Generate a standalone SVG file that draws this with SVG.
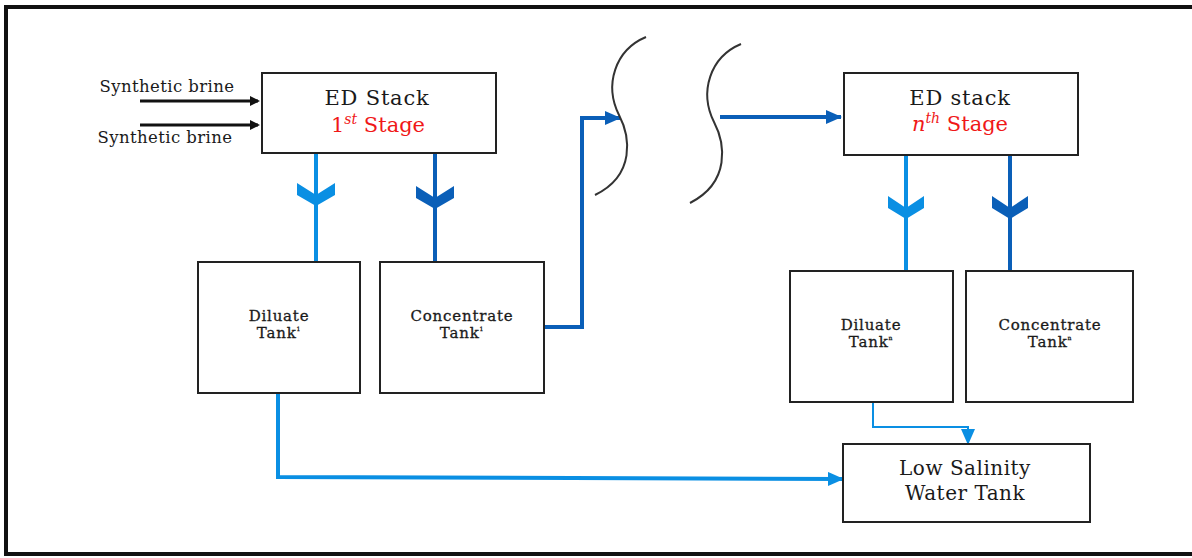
<svg xmlns="http://www.w3.org/2000/svg" width="1192" height="558" viewBox="0 0 1192 558">
<defs>
<style>
.box{fill:#fff;stroke:#222;stroke-width:2}
.t{font-family:"DejaVu Serif","Liberation Serif",serif;fill:#1a1a1a;text-anchor:middle}
.tk{font-size:15px;letter-spacing:0.8px;stroke:#1a1a1a;stroke-width:0.3}
.red{fill:#f01818}
.lb{stroke:#0a8fe3;stroke-width:4;fill:none}
.db{stroke:#0a5fb8;stroke-width:4;fill:none}
.thin{stroke:#0a8fe3;stroke-width:2;fill:none}
.blk{stroke:#111;stroke-width:3;fill:none}
.wave{stroke:#333;stroke-width:2;fill:none}
</style>
<marker id="ab" markerWidth="10" markerHeight="10" refX="8" refY="5" orient="auto" markerUnits="userSpaceOnUse" viewBox="0 0 10 10"><path d="M0,0 L10,5 L0,10 z" fill="#111"/></marker>
<marker id="al" markerWidth="16" markerHeight="14" refX="15" refY="7" orient="auto" markerUnits="userSpaceOnUse" viewBox="0 0 16 14"><path d="M0,0 L16,7 L0,14 z" fill="#0a8fe3"/></marker>
<marker id="ad" markerWidth="16" markerHeight="14" refX="15" refY="7" orient="auto" markerUnits="userSpaceOnUse" viewBox="0 0 16 14"><path d="M0,0 L16,7 L0,14 z" fill="#0a5fb8"/></marker>
</defs>
<rect x="6" y="7" width="1200" height="547" fill="#fff" stroke="#111" stroke-width="4"/>

<g id="connectors">
<line x1="140" y1="101" x2="258" y2="101" class="blk" marker-end="url(#ab)"/>
<line x1="140" y1="125" x2="258" y2="125" class="blk" marker-end="url(#ab)"/>
<line x1="316" y1="153" x2="316" y2="262" class="lb"/>
<path d="M297,183 L316,195 L335,183 L335,195 L316,206 L297,195 z" fill="#0a8fe3"/>
<line x1="435" y1="153" x2="435" y2="262" class="db"/>
<path d="M416,186 L435,198 L454,186 L454,198 L435,209 L416,198 z" fill="#0a5fb8"/>
<polyline points="544,327 582,327 582,118 620,118" class="db" stroke-width="3" marker-end="url(#ad)"/>
<line x1="720" y1="117" x2="841" y2="117" class="db" stroke-width="3" marker-end="url(#ad)"/>
<line x1="906" y1="155" x2="906" y2="270" class="lb"/>
<path d="M888,196 L906,208 L924,196 L924,208 L906,219 L888,208 z" fill="#0a8fe3"/>
<line x1="1010" y1="155" x2="1010" y2="270" class="db"/>
<path d="M992,196 L1010,208 L1028,196 L1028,208 L1010,219 L992,208 z" fill="#0a5fb8"/>
<polyline points="873,402 873,427 968,427 968,444" class="thin" marker-end="url(#al)"/>
<polyline points="278,393 278,477 843,479" class="lb" stroke-width="3" marker-end="url(#al)"/>
<path d="M646,37 C615,50 604,85 619,115 C630,136 636,175 595,195" class="wave"/>
<path d="M741,44 C710,57 699,92 714,122 C725,143 731,182 690,203" class="wave"/>
</g>

<g id="inputs">
<text x="167" y="92" class="t" font-size="16.5" letter-spacing="0.4">Synthetic brine</text>
<text x="165" y="143" class="t" font-size="16.5" letter-spacing="0.4">Synthetic brine</text>
</g>

<g id="ed1">
<rect x="262" y="73" width="234" height="80" class="box"/>
<text x="377" y="105" class="t" font-size="21" letter-spacing="0.8">ED Stack</text>
<text x="378" y="132" class="t red" font-size="21">1<tspan font-size="14" font-style="italic" dy="-8">st</tspan><tspan dy="8"> Stage</tspan></text>
</g>

<g id="diluate1">
<rect x="198" y="262" width="162" height="131" class="box"/>
<text x="279" y="321" class="t tk">Diluate</text>
<text x="279" y="338" class="t tk">Tank<tspan font-size="6" dy="-7">1</tspan></text>
</g>

<g id="concentrate1">
<rect x="380" y="262" width="164" height="131" class="box"/>
<text x="462" y="321" class="t tk">Concentrate</text>
<text x="462" y="338" class="t tk">Tank<tspan font-size="6" dy="-7">1</tspan></text>
</g>

<g id="edn">
<rect x="844" y="73" width="234" height="82" class="box"/>
<text x="960" y="105" class="t" font-size="21" letter-spacing="0.8">ED stack</text>
<text x="960" y="131" class="t red" font-size="21"><tspan font-style="italic">n</tspan><tspan font-size="14" font-style="italic" dy="-8">th</tspan><tspan dy="8"> Stage</tspan></text>
</g>

<g id="diluaten">
<rect x="790" y="271" width="163" height="131" class="box"/>
<text x="871" y="330" class="t tk">Diluate</text>
<text x="871" y="347" class="t tk">Tank<tspan font-size="6" dy="-7">n</tspan></text>
</g>

<g id="concentraten">
<rect x="966" y="271" width="167" height="131" class="box"/>
<text x="1050" y="330" class="t tk">Concentrate</text>
<text x="1050" y="347" class="t tk">Tank<tspan font-size="6" dy="-7">n</tspan></text>
</g>

<g id="lowsal">
<rect x="843" y="444" width="247" height="78" class="box"/>
<text x="965" y="475" class="t" font-size="20" letter-spacing="0.5">Low Salinity</text>
<text x="965" y="500" class="t" font-size="20" letter-spacing="0.5">Water Tank</text>
</g>
</svg>
